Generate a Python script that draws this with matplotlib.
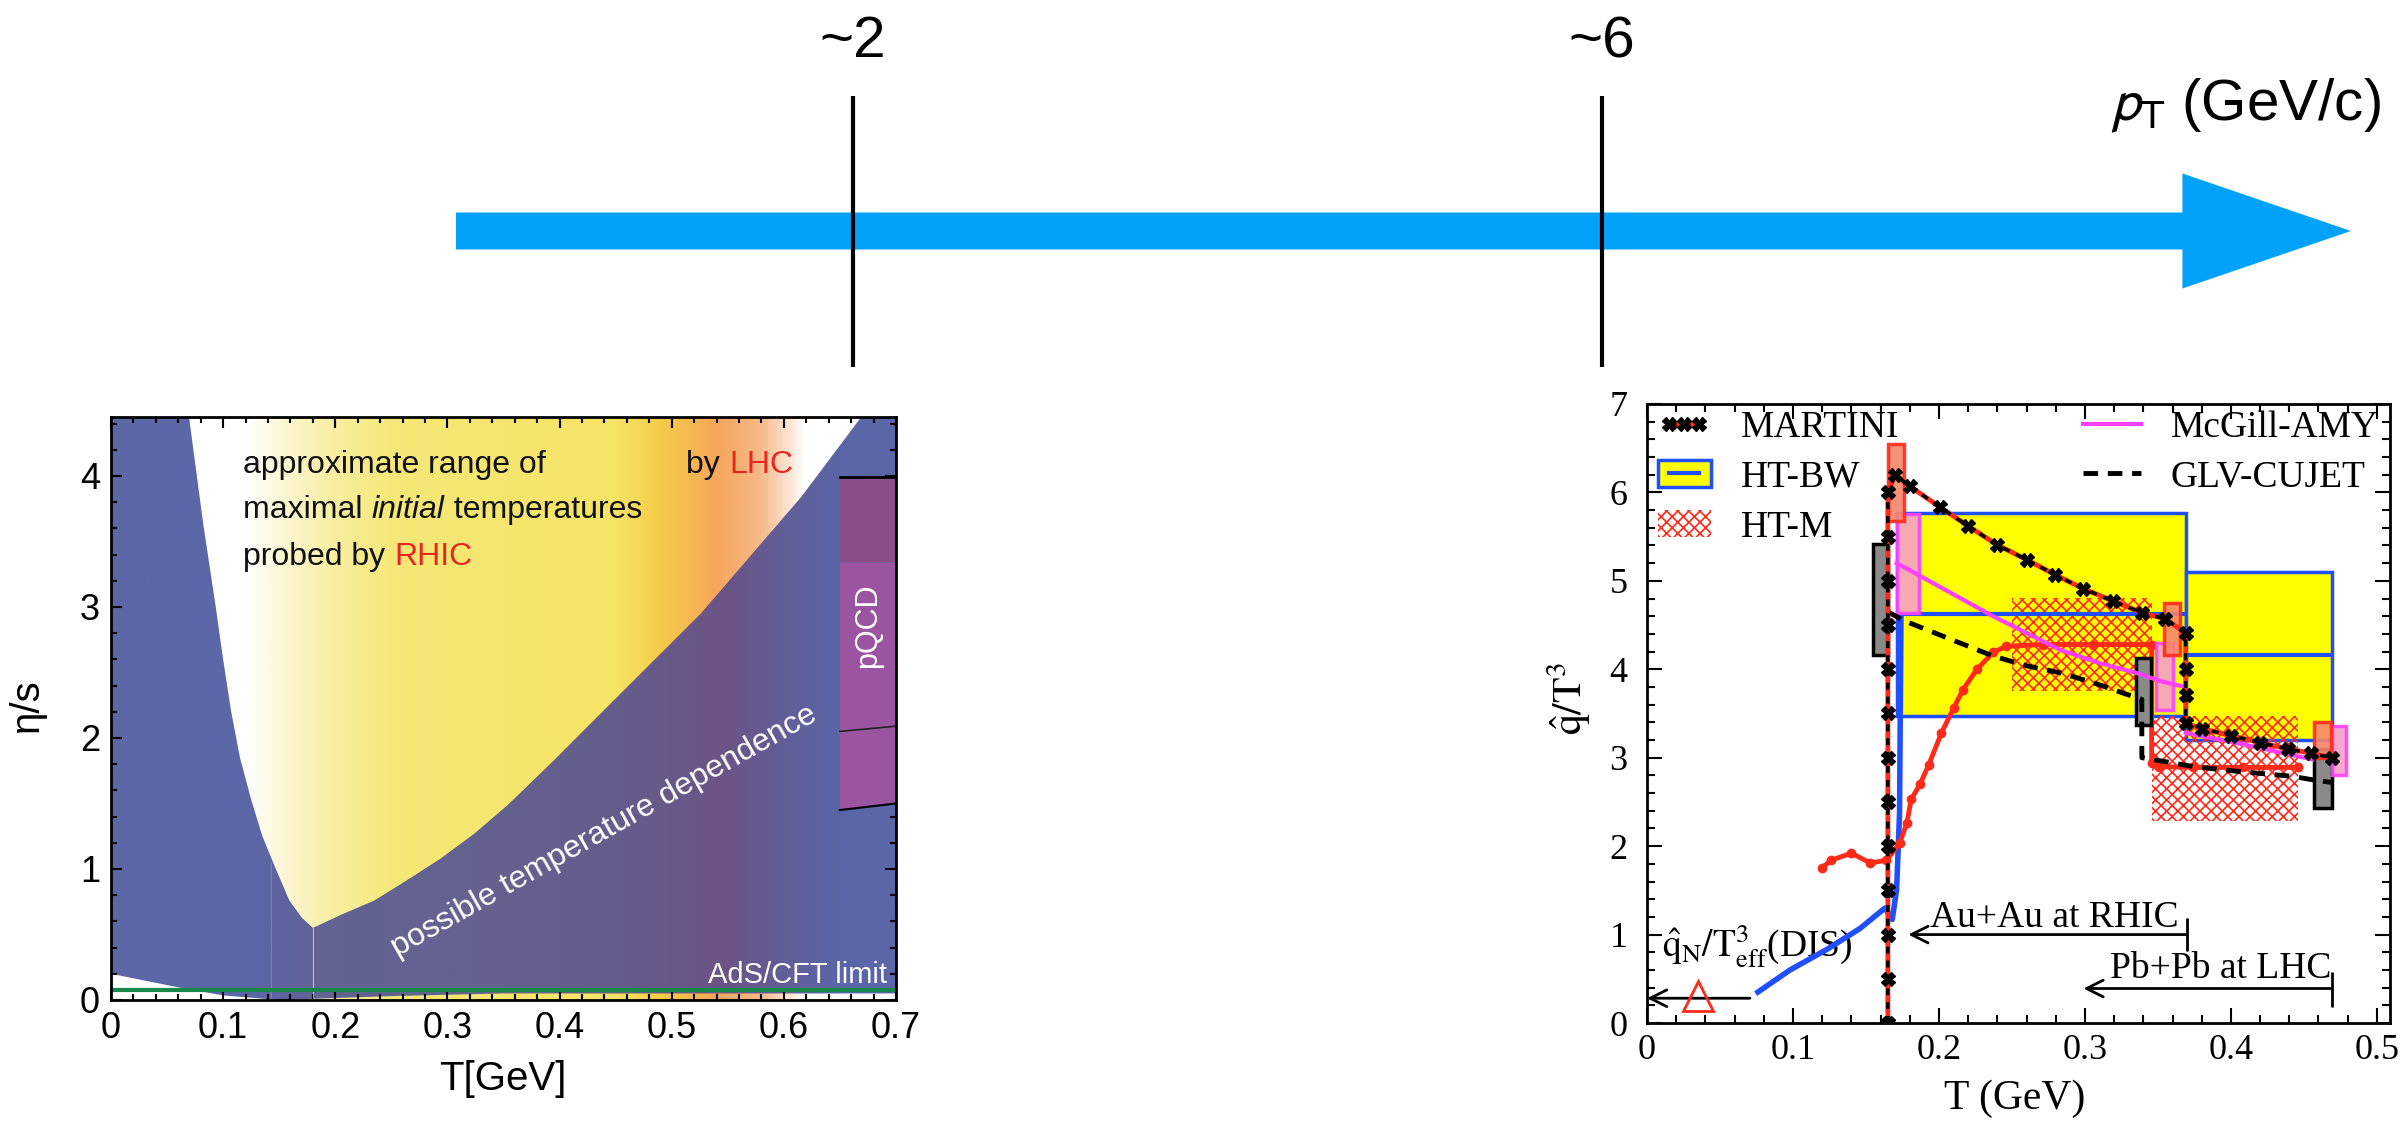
# -*- coding: utf-8 -*-
# eta/s and qhat/T^3 vs temperature, hung under a pT arrow
import matplotlib
matplotlib.use('Agg')
import matplotlib.pyplot as plt
import matplotlib.patches as patches
import matplotlib.ticker as ticker
from matplotlib.colors import LinearSegmentedColormap
from matplotlib.lines import Line2D
import numpy as np

plt.rcParams['hatch.linewidth'] = 1.2

SANS = ['Liberation Sans', 'DejaVu Sans']
NARROW = ['Liberation Sans Narrow', 'Liberation Sans', 'DejaVu Sans']
SERIF = ['Liberation Serif', 'DejaVu Serif']
RED = '#ff2a1a'
MAGENTA = '#ff40ff'
BLUE = '#1f4fff'
HATCH = 'xxx'

# =============================================================================
# data
# =============================================================================
# top pT scale
pt_marks = [2, 6]
pt_labels = ['~2', '~6']
pt_arrow = (-0.12, 10.0)

# left panel: eta/s vs T
vee_left_T = [0.0696, 0.0820, 0.0934, 0.100, 0.107, 0.115, 0.125, 0.135, 0.146, 0.159, 0.170, 0.180]
vee_left_eta = [4.45, 3.65, 3.0, 2.6, 2.21, 1.85, 1.53, 1.25, 1.02, 0.76, 0.63, 0.55]
vee_right_T = [0.180, 0.205, 0.235, 0.265, 0.294, 0.324, 0.354, 0.395, 0.437, 0.526, 0.6155, 0.669]
vee_right_eta = [0.55, 0.65, 0.76, 0.92, 1.08, 1.27, 1.49, 1.83, 2.19, 2.95, 3.84, 4.45]
floor_T = [0.0, 0.058, 0.1, 0.15, 0.25, 0.35, 0.7]
floor_eta = [0.2, 0.10, 0.035, 0.0, 0.03, 0.05, 0.05]
ads_cft = 0.08
pqcd_T = [0.65, 0.70]
pqcd_top = 3.99
pqcd_split = 3.34
pqcd_mid = [2.05, 2.09]
pqcd_bottom = [1.45, 1.50]

warm_T = [0.0, 0.12, 0.15, 0.2, 0.25, 0.45, 0.49, 0.54, 0.58, 0.62, 0.7]
warm_col = ['#ffffff', '#ffffff', '#fcf7d6', '#f8eea0', '#f6e878', '#f5e466',
            '#f6cc48', '#f5a65a', '#f7b98a', '#ffffff', '#ffffff']
cool_T = [0.0, 0.13, 0.145, 0.18, 0.3, 0.45, 0.55, 0.6, 0.65, 0.7]
cool_col = ['#5c67a7', '#5c67a7', '#5f64a0', '#626294', '#646390', '#645d8b',
            '#6b5486', '#625e97', '#5a66a7', '#5a66a7']

# right panel: qhat/T^3 vs T
martini_T = [0.165, 0.165, 0.165, 0.165, 0.165, 0.165, 0.165, 0.165, 0.165, 0.165,
             0.165, 0.165, 0.165, 0.170, 0.180, 0.201, 0.220, 0.2395, 0.260, 0.2795,
             0.299, 0.3195, 0.339, 0.355, 0.369, 0.369, 0.369, 0.369, 0.380, 0.400,
             0.420, 0.439, 0.455, 0.469]
martini_q = [0.0, 0.5, 1.0, 1.5, 2.0, 2.5, 3.0, 3.5, 4.0, 4.5,
             5.0, 5.5, 6.0, 6.2, 6.07, 5.83, 5.62, 5.41, 5.24, 5.07,
             4.91, 4.77, 4.64, 4.57, 4.41, 4.0, 3.71, 3.39, 3.33, 3.25,
             3.17, 3.10, 3.05, 3.0]

htbw_T = [0.076, 0.098, 0.123, 0.146, 0.163, 0.168, 0.171, 0.173, 0.174]
htbw_q = [0.35, 0.60, 0.83, 1.07, 1.30, 1.17, 1.51, 2.37, 4.62]
htbw_T_lo = [0.171, 0.369]
htbw_T_hi = [0.369, 0.4695]
htbw_q_lo = [3.47, 3.20]
htbw_q_hi = [5.77, 5.10]
htbw_q_mid = [4.62, 4.16]

htm_T = [0.1196, 0.126, 0.140, 0.153, 0.164, 0.173, 0.178, 0.181, 0.187, 0.193,
         0.2017, 0.210, 0.2165, 0.226, 0.237, 0.246, 0.271, 0.3055, 0.3457, 0.3457,
         0.351, 0.374, 0.408, 0.446]
htm_q = [1.75, 1.84, 1.92, 1.81, 1.84, 2.03, 2.26, 2.53, 2.70, 2.92,
         3.28, 3.56, 3.77, 4.0, 4.19, 4.26, 4.28, 4.28, 4.28, 2.94,
         2.90, 2.89, 2.89, 2.89]
htm_band_T_lo = [0.2498, 0.3457]
htm_band_T_hi = [0.3457, 0.446]
htm_band_q_lo = [3.75, 2.28]
htm_band_q_hi = [4.81, 3.47]
htm_err_T_lo = [0.165, 0.354, 0.457]
htm_err_T_hi = [0.176, 0.365, 0.4687]
htm_err_q_lo = [5.68, 4.16, 3.00]
htm_err_q_hi = [6.55, 4.75, 3.40]

amy_T = [0.171, 0.180, 0.214, 0.237, 0.260, 0.283, 0.310, 0.335, 0.353, 0.366]
amy_q = [5.20, 5.12, 4.81, 4.60, 4.41, 4.22, 4.07, 3.96, 3.86, 3.81]
amy2_T = [0.369, 0.397, 0.420, 0.442, 0.456]
amy2_q = [3.28, 3.19, 3.11, 3.03, 2.98]
amy_err_T_lo = [0.171, 0.349, 0.4695]
amy_err_T_hi = [0.186, 0.360, 0.479]
amy_err_q_lo = [4.64, 3.54, 2.80]
amy_err_q_hi = [5.76, 4.30, 3.36]

glv_T = [0.165, 0.176, 0.214, 0.237, 0.260, 0.283, 0.3055, 0.328, 0.339, 0.339,
         0.3465, 0.374, 0.408, 0.442, 0.456, 0.469]
glv_q = [4.65, 4.55, 4.30, 4.15, 4.04, 3.96, 3.85, 3.72, 3.66, 3.0,
         2.98, 2.90, 2.84, 2.79, 2.75, 2.72]
glv_err_T_lo = [0.155, 0.335, 0.457]
glv_err_T_hi = [0.165, 0.3455, 0.469]
glv_err_q_lo = [4.16, 3.37, 2.43]
glv_err_q_hi = [5.42, 4.13, 3.10]

dis_T = [0.035]
dis_q = [0.30]
dis_range = [0.0705, 0.0]
dis_level = 0.28
rhic_range = [0.3696, 0.179]
rhic_level = 1.0
lhc_range = [0.4694, 0.299]
lhc_level = 0.39

# =============================================================================
# figure
# =============================================================================
fig = plt.figure(figsize=(24.06, 11.21), dpi=100)

# ---- the pT arrow across the top (x in GeV/c, y in pixels) ----
ax_t = fig.add_axes([0, 0, 1, 1])
ax_t.set_xlim(-2.555, 10.294)
ax_t.set_ylim(1121, 0)
ax_t.axis('off')
ax_t.arrow(pt_arrow[0], 231, pt_arrow[1] - pt_arrow[0], 0, width=37, head_width=115,
           head_length=0.9, length_includes_head=True, color='#03a2fa', lw=0)
ax_t.vlines(pt_marks, 96, 367, color='black', lw=3)
for v, lab in zip(pt_marks, pt_labels):
    ax_t.text(v, 57, lab, ha='center', va='baseline', fontsize=42, family=SANS)
ax_t.text(10.16, 120, r'$p_{\rm T}$ (GeV/c)', ha='right', va='baseline', fontsize=42,
          family=SANS, math_fontfamily='stixsans')


def chain(ax, x, y, parts, **kw):
    # write coloured / italic pieces one after the other on a line
    t = ax.text(x, y, parts[0][0], color=parts[0][1], style=parts[0][2], va='baseline', **kw)
    for s, c, st in parts[1:]:
        t = ax.annotate(s, xy=(1, 0), xycoords=t, va='bottom', color=c, style=st, **kw)
    return t


# ---- left panel: eta/s ----
ax_l = fig.add_axes([0.04613, 0.10794, 0.32627, 0.52007])
grad = np.linspace(0, 0.7, 701)[np.newaxis, :]
warm = LinearSegmentedColormap.from_list('warm', list(zip(np.array(warm_T) / 0.7, warm_col)))
cool = LinearSegmentedColormap.from_list('cool', list(zip(np.array(cool_T) / 0.7, cool_col)))
ax_l.imshow(grad, extent=(0, 0.7, 0, 4.45), aspect='auto', cmap=warm, vmin=0, vmax=0.7,
            origin='lower', zorder=0, interpolation='bilinear')
im_cool = ax_l.imshow(grad, extent=(0, 0.7, 0, 4.45), aspect='auto', cmap=cool, vmin=0,
                      vmax=0.7, origin='lower', zorder=1, interpolation='bilinear')
verts = ([(0, 4.45)] + list(zip(vee_left_T, vee_left_eta)) + list(zip(vee_right_T, vee_right_eta))
         + [(0.7, 4.45)] + list(zip(floor_T[::-1], floor_eta[::-1])))
blue_zone = patches.Polygon(verts, closed=True, fc='none', ec='none', zorder=1)
ax_l.add_patch(blue_zone)
im_cool.set_clip_path(blue_zone)

ax_l.plot([vee_left_T[-1], vee_left_T[-1]], [0, vee_left_eta[-1]], color='white', lw=0.8, alpha=0.6, zorder=2)
ax_l.plot([0.143, 0.143], [0, 1.05], color='white', lw=0.8, alpha=0.2, zorder=2)

ax_l.add_patch(patches.Rectangle((pqcd_T[0], pqcd_split), pqcd_T[1] - pqcd_T[0], pqcd_top - pqcd_split,
                                 fc='#8a4f89', ec='none', zorder=3))
ax_l.add_patch(patches.Polygon([(pqcd_T[0], pqcd_bottom[0]), (pqcd_T[1], pqcd_bottom[1]),
                                (pqcd_T[1], pqcd_split), (pqcd_T[0], pqcd_split)],
                               fc='#9b55a0', ec='none', zorder=3))
ax_l.plot(pqcd_T, [pqcd_top, pqcd_top], color='black', lw=2, zorder=4)
ax_l.plot(pqcd_T, pqcd_mid, color='#222222', lw=1.2, zorder=4)
ax_l.plot(pqcd_T, pqcd_bottom, color='black', lw=1.5, zorder=4)
ax_l.text(0.675, 2.86, 'pQCD', rotation=90, ha='center', va='center', color='white',
          fontsize=22, family=SANS, zorder=5)
ax_l.axhline(ads_cft, color='#17874a', lw=3, zorder=4)
ax_l.text(0.692, 0.13, 'AdS/CFT limit', ha='right', va='baseline', color='white',
          fontsize=21, family=SANS, zorder=5)

tk = dict(fontsize=23, family=SANS, zorder=5)
chain(ax_l, 0.118, 4.02, [('approximate range of', '#111111', 'normal')], **tk)
chain(ax_l, 0.118, 3.68, [('maximal ', '#111111', 'normal'), ('initial', '#111111', 'italic'),
                          (' temperatures', '#111111', 'normal')], **tk)
chain(ax_l, 0.118, 3.32, [('probed by ', '#111111', 'normal'), ('RHIC', '#e8251f', 'normal')], **tk)
chain(ax_l, 0.513, 4.02, [('by ', '#111111', 'normal'), ('LHC', '#e8251f', 'normal')], **tk)
ax_l.text(0.443, 1.237, 'possible temperature dependence', rotation=29.4, rotation_mode='anchor',
          ha='center', va='baseline', color='white', fontsize=23, family=SANS, zorder=5)

ax_l.set_xlim(0, 0.7)
ax_l.set_ylim(0, 4.45)
ax_l.xaxis.set_major_locator(ticker.MultipleLocator(0.1))
ax_l.xaxis.set_minor_locator(ticker.MultipleLocator(0.02))
ax_l.yaxis.set_major_locator(ticker.MultipleLocator(1))
ax_l.yaxis.set_minor_locator(ticker.MultipleLocator(0.2))
ax_l.xaxis.set_major_formatter(ticker.FuncFormatter(lambda v, p: f'{v:g}'))
ax_l.tick_params(which='both', direction='in', top=True, right=True, width=1.5)
ax_l.tick_params(which='major', length=8, pad=8, labelsize=26)
ax_l.tick_params(which='minor', length=4)
for lab in ax_l.get_xticklabels() + ax_l.get_yticklabels():
    lab.set_family(NARROW)
for s in ax_l.spines.values():
    s.set_linewidth(2)
    s.set_zorder(6)
ax_l.set_xlabel('T[GeV]', fontsize=29, family=SANS)
ax_l.set_ylabel('η/s', fontsize=29, family=SANS)
ax_l.xaxis.set_label_coords(0.4994, -0.103)
ax_l.yaxis.set_label_coords(-0.083, 0.506)

# ---- right panel: qhat/T^3 ----
ax_r = fig.add_axes([0.68454, 0.08742, 0.30881, 0.55219])


def boxes(ax, tlo, thi, qlo, qhi, **kw):
    for a, b, c, d in zip(tlo, thi, qlo, qhi):
        ax.add_patch(patches.Rectangle((a, c), b - a, d - c, **kw))


boxes(ax_r, htbw_T_lo, htbw_T_hi, htbw_q_lo, htbw_q_hi, fc='#ffff00', ec=BLUE, lw=2.5, zorder=1)
boxes(ax_r, htm_band_T_lo, htm_band_T_hi, htm_band_q_lo, htm_band_q_hi, fill=False, ec=RED, lw=0,
      hatch=HATCH, zorder=2)
ax_r.hlines(htbw_q_mid, htbw_T_lo, htbw_T_hi, color=BLUE, lw=3, zorder=3)
ax_r.plot(htbw_T, htbw_q, color=BLUE, lw=4, zorder=4)
ax_r.plot(htm_T, htm_q, color=RED, lw=3.5, marker='o', ms=6, zorder=5)
boxes(ax_r, glv_err_T_lo, glv_err_T_hi, glv_err_q_lo, glv_err_q_hi, fc='#8a8a8a', ec='black', lw=2.5, zorder=6)
boxes(ax_r, amy_err_T_lo, amy_err_T_hi, amy_err_q_lo, amy_err_q_hi, fc='#f59fc8', ec=MAGENTA, lw=2.5,
      alpha=0.9, zorder=6)
boxes(ax_r, htm_err_T_lo, htm_err_T_hi, htm_err_q_lo, htm_err_q_hi, fc='#f6866c', ec=RED, lw=2.5,
      alpha=0.9, zorder=6)
ax_r.plot(amy_T, amy_q, color=MAGENTA, lw=3, zorder=7)
ax_r.plot(amy2_T, amy2_q, color=MAGENTA, lw=3, zorder=7)
ax_r.plot(glv_T, glv_q, color='black', lw=3.5, ls=(0, (3, 2)), zorder=7)
ax_r.plot(martini_T, martini_q, color=RED, lw=3.5, zorder=8)
ax_r.plot(martini_T, martini_q, color='black', lw=2.5, ls=(0, (2, 2)), marker='X', ms=10, zorder=9)

# DIS point and the RHIC / LHC ranges
ax_r.plot(dis_T, dis_q, ls='none', marker='^', mfc='none', mec=RED, mew=2, ms=22, zorder=5)
arrow_kw = dict(arrowstyle='->,head_length=1.2,head_width=0.6', color='black', lw=2,
                shrinkA=0, shrinkB=0)
ax_r.annotate('', xy=(dis_range[1], dis_level), xytext=(dis_range[0], dis_level), arrowprops=arrow_kw)
ax_r.annotate('', xy=(rhic_range[1], rhic_level), xytext=(rhic_range[0], rhic_level), arrowprops=arrow_kw)
ax_r.annotate('', xy=(lhc_range[1], lhc_level), xytext=(lhc_range[0], lhc_level), arrowprops=arrow_kw)
ax_r.vlines([rhic_range[0]], rhic_level - 0.19, rhic_level + 0.19, color='black', lw=2)
ax_r.vlines([lhc_range[0]], lhc_level - 0.21, lhc_level + 0.19, color='black', lw=2)
ak = dict(fontsize=27, family=SERIF, va='baseline', math_fontfamily='stix')
ax_r.text(0.010, 0.74, r'$\hat{\mathrm{q}}_\mathrm{N}/\mathrm{T}^3_\mathrm{eff}$(DIS)', **ak)
ax_r.text(0.364, 1.09, 'Au+Au at RHIC', ha='right', **ak)
ax_r.text(0.469, 0.51, 'Pb+Pb at LHC', ha='right', **ak)

ax_r.set_xlim(0, 0.509)
ax_r.set_ylim(0, 7)
ax_r.xaxis.set_major_locator(ticker.MultipleLocator(0.1))
ax_r.xaxis.set_minor_locator(ticker.MultipleLocator(0.02))
ax_r.yaxis.set_major_locator(ticker.MultipleLocator(1))
ax_r.yaxis.set_minor_locator(ticker.MultipleLocator(0.2))
ax_r.xaxis.set_major_formatter(ticker.FuncFormatter(lambda v, p: f'{v:g}'))
ax_r.tick_params(which='both', direction='in', top=True, right=True, width=1.5)
ax_r.tick_params(which='major', length=11, labelsize=26)
ax_r.tick_params(axis='x', which='major', pad=8)
ax_r.tick_params(axis='y', which='major', pad=14)
ax_r.tick_params(which='minor', length=6)
for lab in ax_r.get_xticklabels() + ax_r.get_yticklabels():
    lab.set_family(SERIF)
for s in ax_r.spines.values():
    s.set_linewidth(2)
    s.set_zorder(10)
ax_r.set_xlabel('T (GeV)', fontsize=30, family=SERIF)
ax_r.set_ylabel(r'$\hat{\mathrm{q}}/\mathrm{T}^3$', fontsize=30, family=SERIF, math_fontfamily='stix')
ax_r.xaxis.set_label_coords(0.495, -0.092)
ax_r.yaxis.set_label_coords(-0.073, 0.525)

h_martini = (Line2D([], [], color=RED, lw=3.5),
             Line2D([], [], color='black', lw=2.5, ls=(0, (2, 2)), marker='X', ms=10))
h_htbw = (patches.Patch(fc='#ffff00', ec=BLUE, lw=2.5), Line2D([], [], color=BLUE, lw=3))
h_htm = patches.Patch(fill=False, ec=RED, lw=0, hatch=HATCH)
h_amy = Line2D([], [], color=MAGENTA, lw=3)
h_glv = Line2D([], [], color='black', lw=3.5, ls=(0, (3, 2)))
leg_prop = dict(family=SERIF, size=27)
leg1 = ax_r.legend([h_martini, h_htbw, h_htm], ['MARTINI', 'HT-BW', 'HT-M'], loc='upper left',
                   bbox_to_anchor=(0.015, 0.99), frameon=False, prop=leg_prop, numpoints=3,
                   handlelength=1.4, handleheight=0.75, handletextpad=0.8, labelspacing=0.4,
                   borderpad=0, borderaxespad=0)
ax_r.add_artist(leg1)
ax_r.legend([h_amy, h_glv], ['McGill-AMY', 'GLV-CUJET'], loc='upper right',
            bbox_to_anchor=(0.985, 0.99), frameon=False, prop=leg_prop,
            handlelength=1.55, handletextpad=0.8, labelspacing=0.4, borderpad=0, borderaxespad=0)

fig.savefig('out.png', dpi=100)
